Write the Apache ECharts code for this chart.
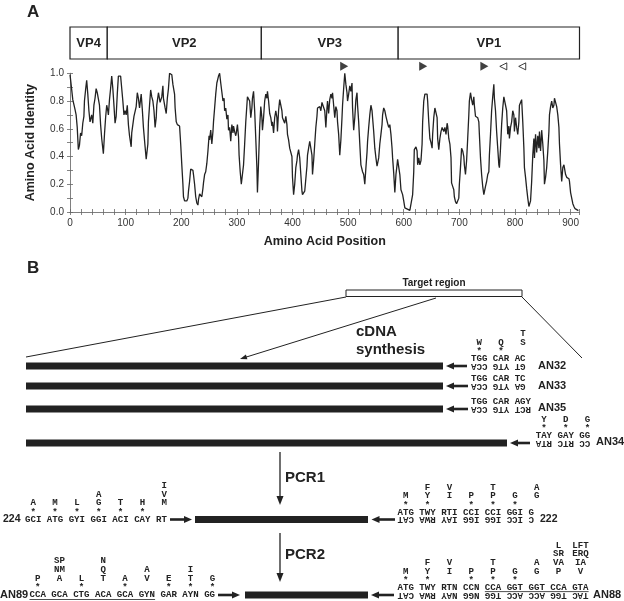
<!DOCTYPE html>
<html><head><meta charset="utf-8">
<script src="https://cdn.jsdelivr.net/npm/echarts@6/dist/echarts.min.js"></script>
<style>html,body{margin:0;padding:0;background:#fff}#c{width:624px;height:601px}</style>
</head><body><div id="c"></div>
<script>
// ---------- Panel A data ----------
const identityA = [[0,.99],[2,.92],[5,.81],[6,.80],[8,.81],[9,.74],[11,.70],[13,.61],[15,.45],[17,.48],[19,.57],[21,.55],[23,.64],[25,.69],[26,.80],[28,.88],[30,.95],[32,.85],[34,.73],[36,.65],[39,.70],[41,.64],[43,.77],[45,.82],[47,.89],[49,.86],[51,.87],[53,.77],[55,.63],[57,.53],[60,.42],[62,.56],[64,.68],[66,.77],[68,.73],[69,.70],[71,.81],[73,.89],[75,.98],[77,.89],[79,.77],[81,.64],[83,.69],[85,.85],[87,.98],[89,.99],[91,.98],[93,.89],[95,.80],[97,.70],[99,.73],[101,.70],[103,.77],[105,.63],[107,.55],[110,.47],[111,.57],[113,.56],[115,.69],[117,.70],[119,.76],[121,.86],[123,.82],[125,.75],[128,.85],[130,.74],[132,.61],[135,.47],[137,.38],[140,.49],[141,.65],[143,.77],[145,.88],[147,.83],[149,.80],[151,.73],[153,.61],[155,.68],[156,.77],[159,.86],[161,.85],[162,.79],[165,.83],[167,.91],[168,.82],[171,.75],[173,.71],[175,.82],[177,.89],[179,1.0],[181,.99],[183,.99],[185,.92],[188,.85],[189,.75],[191,.65],[193,.63],[195,.64],[197,.62],[199,.49],[201,.34],[203,.20],[204,.11],[206,.08],[208,.08],[210,.08],[212,.10],[213,.15],[215,.22],[217,.31],[219,.31],[221,.30],[222,.27],[224,.20],[226,.11],[228,.065],[230,.05],[231,.09],[233,.13],[235,.14],[237,.11],[239,.17],[240,.21],[242,.27],[244,.29],[246,.35],[248,.44],[250,.55],[251,.52],[253,.59],[255,.49],[257,.58],[258,.65],[260,.75],[262,.85],[264,.93],[266,.94],[267,.98],[269,1.0],[271,.93],[273,.92],[275,.80],[277,.82],[278,.73],[280,.75],[282,.67],[284,.70],[285,.59],[287,.61],[289,.51],[291,.63],[293,.57],[294,.62],[296,.58],[298,.55]];
const identityB = [[299,.57],[301,.63],[303,.54],[304,.41],[306,.29],[308,.20],[310,.27],[312,.34],[314,.49],[316,.65],[318,.77],[319,.83],[321,.82],[323,.80],[325,.68],[327,.75],[328,.82],[330,.87],[332,.73],[334,.53],[336,.32],[337,.14],[339,.36],[341,.61],[343,.76],[345,.68],[346,.59],[348,.68],[350,.80],[352,.85],[354,.82],[355,.87],[357,.80],[359,.71],[361,.68],[363,.62],[364,.65],[366,.57],[368,.68],[370,.73],[372,.68],[373,.58],[375,.73],[377,.81],[379,.80],[381,.73],[382,.68],[384,.69],[386,.64],[388,.69],[390,.63],[391,.56],[393,.52],[395,.46],[397,.46],[399,.40],[400,.25],[402,.125],[404,.20],[406,.32],[408,.37],[409,.41],[411,.45],[413,.39],[415,.27],[417,.15],[418,.125],[420,.12],[422,.15],[424,.24],[426,.33],[427,.41],[429,.46],[431,.51],[433,.46],[435,.41],[436,.27],[438,.37],[440,.49],[442,.61],[444,.69],[445,.75],[447,.74],[449,.76],[451,.73],[453,.79],[454,.80],[456,.80],[458,.73],[460,.61],[462,.75],[463,.80],[465,.71],[467,.81],[469,.85],[471,.82],[472,.86],[474,.77],[476,.68],[478,.76],[480,.73],[481,.65],[483,.56],[485,.41],[487,.52],[489,.68],[490,.77],[492,.89],[494,1.0],[496,.92],[498,.86],[499,.80],[501,.85],[503,.91],[505,.87],[507,.93],[508,.75],[510,.59],[512,.68],[514,.81],[516,.86],[517,.77],[519,.65],[521,.49],[523,.34],[525,.33],[526,.29],[528,.27],[530,.20],[532,.32],[534,.43],[535,.51],[537,.61],[539,.70],[541,.77],[543,.73],[544,.68],[546,.58],[548,.46],[550,.39],[552,.33],[553,.32],[555,.39],[557,.49],[559,.56],[561,.63],[562,.70],[564,.75],[566,.73],[568,.69],[570,.70],[571,.64],[573,.61],[575,.63],[577,.56],[579,.46],[580,.39],[582,.28],[584,.14],[586,.27],[588,.34],[589,.38],[591,.39],[593,.27],[595,.16],[597,.15],[598,.125],[600,.08],[602,.03],[604,.017]];
const identityC = [[605,.015],[611,.012],[614,.01],[616,.125],[618,.29],[619,.45],[622,.47],[624,.44],[625,.34],[627,.39],[629,.34],[631,.37],[633,.49],[634,.65],[636,.80],[638,.85],[640,.86],[642,.85],[643,.80],[645,.65],[647,.53],[649,.50],[651,.46],[652,.56],[654,.68],[656,.75],[658,.76],[660,.68],[661,.53],[663,.45],[665,.53],[667,.58],[669,.61],[670,.62],[672,.58],[674,.61],[676,.56],[678,.64],[679,.62],[681,.53],[683,.49],[685,.39],[686,.21],[688,.185],[690,.16],[691,.11],[693,.075],[695,.06],[697,.065],[699,.10],[700,.20],[702,.32],[704,.46],[706,.44],[708,.40],[709,.34],[711,.27],[713,.37],[715,.53],[717,.70],[718,.80],[720,.86],[722,.81],[724,.77],[726,.83],[727,.77],[729,.69],[731,.68],[733,.68],[735,.65],[736,.56],[738,.39],[740,.27],[742,.185],[744,.125],[745,.135],[747,.185],[749,.22],[751,.27],[753,.29],[754,.41],[756,.56],[758,.73],[760,.83],[762,.92],[763,.82],[765,.73],[767,.58],[769,.46],[771,.34],[772,.32],[774,.46],[776,.63],[778,.75],[780,.83],[781,.83],[783,.82],[785,.73],[787,.56],[789,.62],[790,.53],[792,.61],[794,.65],[796,.73],[798,.70],[799,.58],[801,.68],[803,.61],[805,.56],[807,.65],[808,.77],[810,.79],[812,.81],[814,.65],[816,.46],[817,.32],[819,.25],[821,.17],[823,.10],[825,.04],[826,.035],[828,.08],[830,.22],[832,.41],[834,.53],[835,.39],[837,.56],[839,.43],[841,.55],[843,.46],[844,.58],[846,.44],[848,.59],[850,.49],[852,.37],[853,.20],[855,.25],[857,.32],[859,.44],[861,.58],[862,.70],[864,.76],[866,.80],[868,.75],[870,.77],[871,.82],[873,.83],[875,.76],[877,.70],[879,.61],[880,.49],[882,.34],[884,.22],[886,.32],[888,.34],[889,.35],[891,.27],[893,.25],[895,.26],[897,.24],[898,.22],[900,.14],[902,.10],[904,.06],[906,.04],[908,.024],[911,.014],[914,.01]];
const regionNames = ['VP4','VP2','VP3','VP1'];
const regionStart = [0,67,344,590];
const regionEnd = [67,344,590,916];
const filledMarkers = [493,635,745];
const openMarkers = [779,813];
const xMax = 916;

// ---------- Panel B text data ----------
const an32Codons = ['TGG','CAR','AC'];
const an32Amino = [['W'],['Q'],['T','S']];
const an32Stars = [1,1,0];
const an33Codons = ['TGG','CAR','TC'];
const an35Codons = ['TGG','CAR','AGY'];
const an34Codons = ['TAY','GAY','GG'];
const an34Amino = [['Y'],['D'],['G']];
const an34Stars = [1,1,1];
const p224Codons = ['GCI','ATG','GYI','GGI','ACI','CAY','RT'];
const p224Amino = [['A'],['M'],['L'],['A','G'],['T'],['H'],['I','V','M']];
const p224Stars = [1,1,1,1,1,1,0];
const p222Codons = ['ATG','TWY','RTI','CCI','CCI','GGI','G'];
const p222Amino = [['M'],['F','Y'],['V','I'],['P'],['T','P'],['G'],['A','G']];
const p222Stars = [1,1,0,1,1,1,0];
const an89Codons = ['CCA','GCA','CTG','ACA','GCA','GYN','GAR','AYN','GG'];
const an89Amino = [['P'],['SP','NM','A'],['L'],['N','Q','T'],['A'],['A','V'],['E'],['I','T'],['G']];
const an89Stars = [1,0,1,0,1,0,1,1,1];
const an88Codons = ['ATG','TWY','RTN','CCN','CCA','GGT','GGT','CCA','GTA'];
const an88Amino = [['M'],['F','Y'],['V','I'],['P'],['T','P'],['G'],['A','G'],['L','SR','VA','P'],['LFT','ERQ','IA','V']];
const an88Stars = [1,1,0,1,1,1,0,0,0];

// ---------- helpers ----------
const INK = '#222';
const monoSize = 9.1, cw = monoSize * 0.6;
const monoFont = 'bold ' + monoSize + 'px "Liberation Mono"';
const COMP = {A:'T',T:'A',G:'C',C:'G',R:'Y',Y:'R',W:'W',S:'S',K:'M',M:'K',N:'N',I:'I',' ':' '};
function txt(x, y, s, font, align, rot) {
  return {type:'text', x:x, y:y, rotation: rot || 0, silent:true,
    style:{text:s, font:font, fill:INK, textAlign:align||'left', textVerticalAlign:'middle', align:align||'left', verticalAlign:'middle'}};
}
function primer(codons, amino, stars, x0, y, reverse) {
  const els = [];
  const row = codons.join(' ');
  els.push(txt(x0, y, row, monoFont));
  if (reverse) {
    const comp = row.split('').map(c => COMP[c] || c).reverse().join('');
    els.push(txt(x0 + row.length * cw / 2, y + 7, comp, monoFont, 'center', Math.PI));
  }
  codons.forEach((c, i) => {
    const cx = x0 + (4 * i + 1.5) * cw;
    if (stars && stars[i]) els.push(txt(cx, y - 6.8, '*', monoFont, 'center'));
    if (amino) {
      const st = amino[i];
      st.forEach((a, k) => {
        const lvl = st.length - 1 - k;
        els.push(txt(cx, y - 16.5 - lvl * 8.7, a, monoFont, 'center'));
      });
    }
  });
  return els;
}
function line(x1, y1, x2, y2, lw) {
  return {type:'line', silent:true, shape:{x1:x1, y1:y1, x2:x2, y2:y2}, style:{stroke:INK, lineWidth:lw}};
}
function arrow(x1, y1, x2, y2, lw, hl, hw) {
  const dx = x2 - x1, dy = y2 - y1, L = Math.hypot(dx, dy), ux = dx / L, uy = dy / L;
  const bx = x2 - ux * hl, by = y2 - uy * hl, px = -uy, py = ux;
  return [
    line(x1, y1, bx + ux, by + uy, lw),
    {type:'polygon', silent:true, shape:{points:[[x2, y2], [bx + px * hw / 2, by + py * hw / 2], [bx - px * hw / 2, by - py * hw / 2]]}, style:{fill:INK}}
  ];
}
function bar(x1, x2, yc) {
  return {type:'rect', silent:true, shape:{x:x1, y:yc - 3.4, width:x2 - x1, height:6.8}, style:{fill:INK}};
}
const labelFont = 'bold 11px "Liberation Sans"';
const bigFont = 'bold 15px "Liberation Sans"';

let g = [];
g.push(txt(27, 12, 'A', 'bold 17px "Liberation Sans"'));
g.push(txt(27, 268, 'B', 'bold 17px "Liberation Sans"'));
// target region
g.push(txt(434, 283, 'Target region', 'bold 10px "Liberation Sans"', 'center'));
g.push({type:'rect', silent:true, shape:{x:346, y:290, width:176, height:6.5}, style:{fill:'#fff', stroke:INK, lineWidth:1}});
g.push(line(26, 357, 346, 297, 1));
g.push(line(522, 297, 582, 358, 1));
g = g.concat(arrow(436, 298, 240, 359, 1, 7, 5));
g.push(txt(356, 332, 'cDNA', bigFont));
g.push(txt(356, 350, 'synthesis', bigFont));
// template bars
g.push(bar(26, 443, 366), bar(26, 443, 386), bar(26, 443, 409), bar(26, 507, 443));
g = g.concat(arrow(467, 366, 446, 366, 2.6, 8, 7), arrow(468, 386, 446, 386, 2.6, 8, 7),
             arrow(468, 409, 446, 409, 2.6, 8, 7), arrow(530, 443, 510, 443, 2.6, 8, 7));
g = g.concat(primer(an32Codons, an32Amino, an32Stars, 471, 359, true));
g = g.concat(primer(an33Codons, null, null, 471, 379, true));
g = g.concat(primer(an35Codons, null, null, 471, 402, true));
g = g.concat(primer(an34Codons, an34Amino, an34Stars, 535.7, 436, true));
g.push(txt(538, 366, 'AN32', labelFont), txt(538, 386, 'AN33', labelFont), txt(538, 408, 'AN35', labelFont), txt(596, 442, 'AN34', labelFont));
// PCR1
g = g.concat(arrow(280, 452, 280, 505, 1.3, 9, 7));
g.push(txt(285, 478, 'PCR1', bigFont));
g.push(bar(195, 368, 519.5));
g = g.concat(arrow(170, 519.5, 192, 519.5, 2.6, 8, 7), arrow(395, 519.5, 371.5, 519.5, 2.6, 8, 7));
g = g.concat(primer(p224Codons, p224Amino, p224Stars, 25, 519.5, false));
g = g.concat(primer(p222Codons, p222Amino, p222Stars, 397.5, 512.5, true));
g.push(txt(3, 519.5, '224', 'bold 10.5px "Liberation Sans"'), txt(540, 519.5, '222', 'bold 10.5px "Liberation Sans"'));
// PCR2
g = g.concat(arrow(280, 533, 280, 582, 1.3, 9, 7));
g.push(txt(285, 555, 'PCR2', bigFont));
g.push(bar(245, 368, 595));
g = g.concat(arrow(218, 595, 240, 595, 2.6, 8, 7), arrow(394, 595, 371, 595, 2.6, 8, 7));
g = g.concat(primer(an89Codons, an89Amino, an89Stars, 29.5, 595, false));
g = g.concat(primer(an88Codons, an88Amino, an88Stars, 397.5, 588, true));
g.push(line(29.5, 599.5, 29.5 + 23 * cw, 599.5, 0.8));
g.push(line(397.5 + 16 * cw, 591.6, 397.5 + 35 * cw, 591.6, 0.8));
g.push(txt(0, 595, 'AN89', labelFont), txt(593, 595, 'AN88', labelFont));

// ---------- chart ----------
const frame = {color:'#808080', width:1};
const tickStyle = {show:true, inside:true, length:3, lineStyle:{color:'#666', width:0.8}};
const lblFont = {fontSize:10, color:'#333', fontFamily:'Liberation Sans'};
const chart = echarts.init(document.getElementById('c'), null, {renderer:'canvas'});
chart.setOption({
  animation:false,
  backgroundColor:'#fff',
  grid:[{left:70, right:44.5, top:73.3, height:138.7}, {left:70, right:44.5, top:27, height:32}],
  xAxis:[
    {gridIndex:0, type:'value', min:0, max:xMax, interval:20, axisLine:{show:true, lineStyle:frame}, axisTick:tickStyle,
     axisLabel:Object.assign({margin:6, formatter:v => (v % 100 === 0 ? String(v) : '')}, lblFont), splitLine:{show:false},
     name:'Amino Acid Position', nameLocation:'middle', nameGap:23,
     nameTextStyle:{fontSize:12.5, fontWeight:'bold', color:INK, fontFamily:'Liberation Sans'}},
    {gridIndex:0, type:'value', position:'top', min:0, max:xMax, interval:20, axisLine:{show:true, lineStyle:frame}, axisTick:tickStyle, axisLabel:{show:false}, splitLine:{show:false}},
    {gridIndex:1, type:'value', min:0, max:xMax, show:false}
  ],
  yAxis:[
    {gridIndex:0, type:'value', min:0, max:1, interval:0.1, axisLine:{show:true, lineStyle:frame}, axisTick:tickStyle,
     axisLabel:Object.assign({margin:6, formatter:v => (Math.round(v * 10) % 2 === 0 ? v.toFixed(1) : '')}, lblFont), splitLine:{show:false},
     name:'Amino Acid Identity', nameLocation:'middle', nameGap:33,
     nameTextStyle:{fontSize:12.5, fontWeight:'bold', color:INK, fontFamily:'Liberation Sans'}},
    {gridIndex:0, type:'value', position:'right', min:0, max:1, interval:0.1, axisLine:{show:true, lineStyle:frame}, axisTick:tickStyle, axisLabel:{show:false}, splitLine:{show:false}},
    {gridIndex:1, type:'value', min:0, max:1, show:false}
  ],
  series:[
    {type:'line', xAxisIndex:0, yAxisIndex:0, data:identityA.concat(identityB, identityC), symbol:'none',
     lineStyle:{color:INK, width:1.3}, silent:true},
    {type:'scatter', xAxisIndex:0, yAxisIndex:0, clip:false, data:filledMarkers.map(p => [p, 1.05]),
     symbol:'triangle', symbolRotate:-90, symbolSize:[9, 8], itemStyle:{color:'#111'}, silent:true},
    {type:'scatter', xAxisIndex:0, yAxisIndex:0, clip:false, data:openMarkers.map(p => [p, 1.05]),
     symbol:'triangle', symbolRotate:90, symbolSize:[7, 7], itemStyle:{color:'#fff', borderColor:'#111', borderWidth:1}, silent:true},
    {type:'custom', xAxisIndex:2, yAxisIndex:2, silent:true,
     data:regionNames.map((n, i) => [regionStart[i], regionEnd[i], n]),
     renderItem:function (params, api) {
       const s = api.coord([api.value(0), 1]);
       const e = api.coord([api.value(1), 0]);
       return {type:'group', children:[
         {type:'rect', shape:{x:s[0], y:s[1], width:e[0] - s[0], height:e[1] - s[1]}, style:{fill:'#fff', stroke:INK, lineWidth:1.2}},
         {type:'text', x:(s[0] + e[0]) / 2, y:(s[1] + e[1]) / 2,
          style:{text:api.value(2), font:'bold 13px "Liberation Sans"', fill:INK, textAlign:'center', textVerticalAlign:'middle', align:'center', verticalAlign:'middle'}}
       ]};
     }}
  ],
  graphic:g
});
</script></body></html>
